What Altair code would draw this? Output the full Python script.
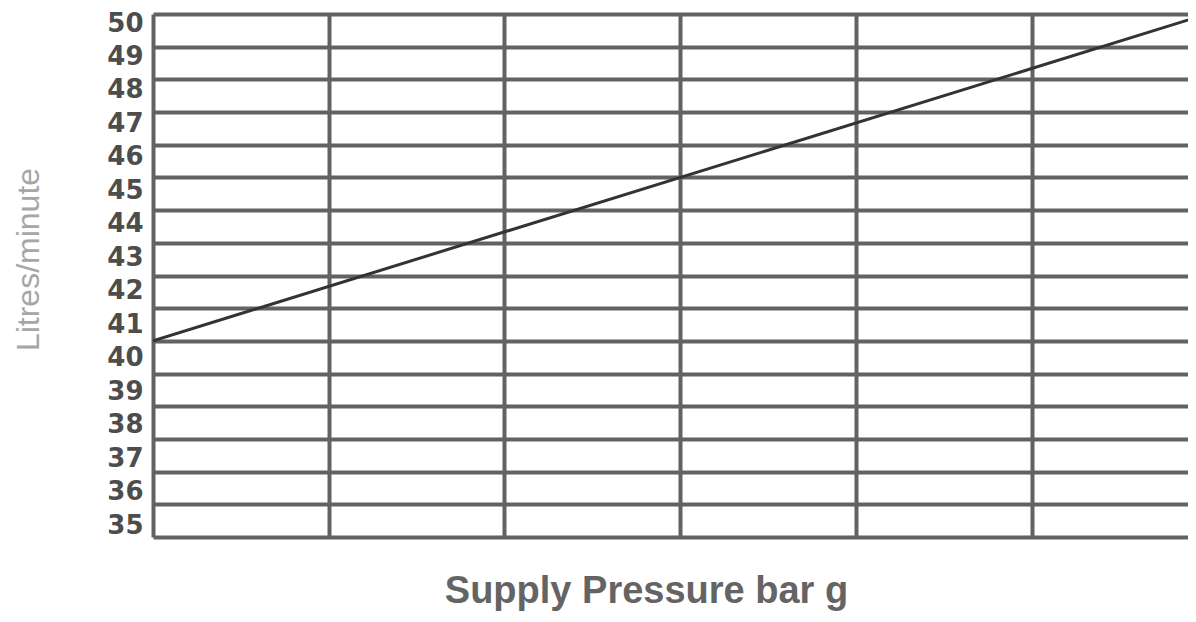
import altair as alt
import pandas as pd

# Data
pressure = [0, 6]            # supply pressure (bar g), line end points
flow = [40, 50]              # litres/minute
grid_y = list(range(34, 51))  # horizontal grid lines
grid_x = [0, 1, 2, 3, 4, 5]   # vertical grid lines
label_vals = list(range(35, 51))  # y tick labels shown

line_df = pd.DataFrame({"p": pressure, "f": flow})
lab_df = pd.DataFrame({"v": label_vals})

GRID = "#626262"

x_enc = alt.X(
    "p:Q",
    scale=alt.Scale(domain=[0, 5.89], nice=False, zero=False),
    axis=alt.Axis(
        values=grid_x, grid=True, gridColor=GRID, gridWidth=4, gridOpacity=1,
        labels=False, ticks=False, domain=False,
        title="Supply Pressure bar g", titleFont="Liberation Sans",
        titleFontSize=38, titleFontWeight="bold", titleColor="#646464",
        titleX=493, titleY=54, titleAlign="center", titleBaseline="middle",
    ),
)

line = alt.Chart(line_df).mark_line(color="#333333", strokeWidth=3, clip=True).encode(
    x=x_enc,
    y=alt.Y(
        "f:Q",
        scale=alt.Scale(domain=[34, 50], nice=False, zero=False),
        axis=alt.Axis(
            orient="left", values=grid_y, grid=True, gridColor=GRID, gridWidth=4,
            gridOpacity=1, labels=False, ticks=False, domain=False,
            title="Litres/minute", titleFont="Liberation Sans", titleFontSize=32,
            titleFontWeight="normal", titleColor="#a6a6a6",
            titleX=-125, titleY=245, titleAngle=-90, titleAlign="center",
            titleBaseline="middle",
        ),
    ),
)

labels = alt.Chart(lab_df).mark_point(opacity=0).encode(
    y=alt.Y(
        "v:Q",
        scale=alt.Scale(domain=[34.643, 50.269], nice=False, zero=False),
        axis=alt.Axis(
            orient="left", values=label_vals, grid=False, ticks=False, tickSize=0,
            domain=False, labelFont="DejaVu Sans", labelFontWeight="bold",
            labelFontSize=26, labelColor="#4d4d4d", labelPadding=10,
            labelAlign="right", labelBaseline="middle", title=None,
            labelOverlap=False,
        ),
    ),
)

chart = (
    alt.layer(line, labels)
    .resolve_scale(y="independent")
    .properties(
        width=1035,
        height=523,
        autosize=alt.AutoSizeParams(type="none"),
        padding={"left": 145, "top": 6, "right": 0, "bottom": 77},
    )
    .configure_view(stroke=None)
)

chart.save("out.html", embed_options={"renderer": "svg", "actions": False})
